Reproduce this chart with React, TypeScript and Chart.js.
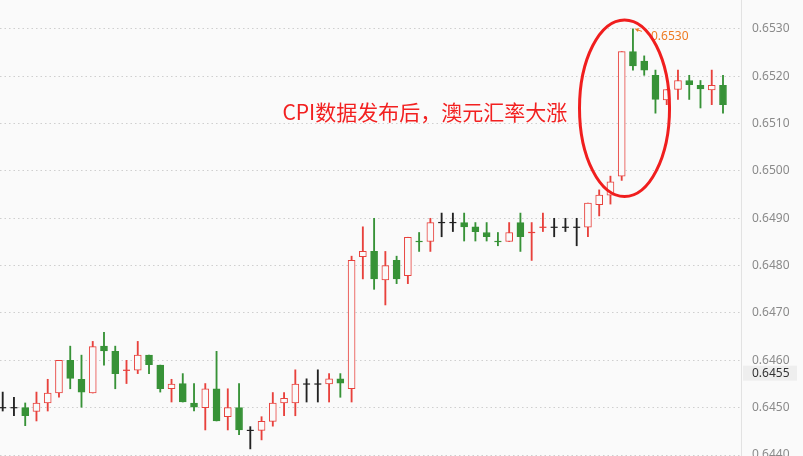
import React, { useEffect, useRef } from "react";
import { Chart, registerables } from "chart.js";

Chart.register(...registerables);

// AUD/USD candles (one per bar, oldest first)
const opens = [
  0.645, 0.645, 0.645, 0.64492, 0.6451, 0.64531, 0.646, 0.6456, 0.64531, 0.6463,
  0.64619, 0.64579, 0.64579, 0.64611, 0.6459, 0.6454, 0.64551, 0.6451, 0.645, 0.6454,
  0.64481, 0.645, 0.64452, 0.64452, 0.64471, 0.6451, 0.6451, 0.6455, 0.6455, 0.6455,
  0.64561, 0.6454, 0.64819, 0.6483, 0.6477, 0.64811, 0.64779, 0.64851, 0.64851, 0.64891,
  0.64891, 0.64891, 0.64882, 0.6487, 0.64851, 0.64851, 0.64891, 0.6487, 0.64881, 0.64881,
  0.64881, 0.64881, 0.64881, 0.64929, 0.64949, 0.64989, 0.65252, 0.65232, 0.65202, 0.6515,
  0.65172, 0.65191, 0.65181, 0.65171, 0.65181,
];
const highs = [
  0.64533, 0.64522, 0.6451, 0.64533, 0.6456, 0.646, 0.6463, 0.64611, 0.6464, 0.64659,
  0.6463, 0.646, 0.6464, 0.64611, 0.6459, 0.6456, 0.64572, 0.64551, 0.64551, 0.64619,
  0.6454, 0.64551, 0.6446, 0.64481, 0.64532, 0.64532, 0.6458, 0.64561, 0.6458, 0.64572,
  0.64572, 0.6482, 0.64882, 0.649, 0.6483, 0.6482, 0.6486, 0.6487, 0.649, 0.64911,
  0.64911, 0.64911, 0.64891, 0.64891, 0.6487, 0.64891, 0.64911, 0.64891, 0.64911, 0.649,
  0.649, 0.649, 0.64932, 0.6496, 0.64989, 0.65252, 0.653, 0.65243, 0.65213, 0.65172,
  0.65213, 0.65202, 0.65191, 0.65213, 0.65202,
];
const lows = [
  0.64493, 0.64483, 0.64462, 0.64472, 0.64493, 0.64522, 0.6454, 0.64501, 0.64531, 0.6459,
  0.6454, 0.64551, 0.64572, 0.64572, 0.64533, 0.64512, 0.64512, 0.64493, 0.64453, 0.64472,
  0.64453, 0.64443, 0.64413, 0.64432, 0.64461, 0.64483, 0.64483, 0.64512, 0.64512, 0.64512,
  0.64522, 0.64512, 0.64772, 0.6475, 0.64717, 0.64762, 0.64762, 0.6483, 0.6483, 0.64861,
  0.64872, 0.64852, 0.64852, 0.64852, 0.64842, 0.64851, 0.6483, 0.64811, 0.64872, 0.64861,
  0.64872, 0.64842, 0.64861, 0.64905, 0.6493, 0.6498, 0.65213, 0.65202, 0.65122, 0.6514,
  0.65151, 0.65151, 0.65133, 0.6514, 0.65122,
];
const closes = [
  0.645, 0.645, 0.64483, 0.6451, 0.64531, 0.646, 0.64562, 0.64533, 0.64629, 0.6462,
  0.64572, 0.6458, 0.64611, 0.64591, 0.6454, 0.6455, 0.64512, 0.64501, 0.6454, 0.64472,
  0.645, 0.64453, 0.64452, 0.64471, 0.6451, 0.6452, 0.6455, 0.6455, 0.6455, 0.64561,
  0.64552, 0.64811, 0.6483, 0.64772, 0.648, 0.64772, 0.6486, 0.6485, 0.64891, 0.64891,
  0.64891, 0.64882, 0.64872, 0.64861, 0.6485, 0.6487, 0.64861, 0.64871, 0.64882, 0.64881,
  0.64881, 0.64881, 0.64932, 0.64949, 0.64977, 0.65252, 0.65222, 0.65213, 0.65151, 0.65172,
  0.65191, 0.65182, 0.65173, 0.65181, 0.6514,
];

const yTicks = [0.644, 0.645, 0.646, 0.647, 0.648, 0.649, 0.65, 0.651, 0.652, 0.653];

const currentPriceText = "0.6455";
const currentPriceLevel = 0.64573;

const noteText = "CPI数据发布后，澳元汇率大涨";
const noteRightX = 50.16;
const noteY = 0.65124;
const ellipseX = [51.25, 59.25];
const ellipseY = [0.64946, 0.65319];

const UP = "#e8413c";
const DOWN = "#379237";
const FLAT = "#222222";
const BG = "#fafafa";

const candleIdx = opens.map((_, i) => i);
const isDoji = (i: number) => Math.abs(closes[i] - opens[i]) < 0.000015;
const colorOf = (i: number) =>
  closes[i] > opens[i] ? UP : closes[i] < opens[i] ? DOWN : FLAT;

const overlayPlugin = {
  id: "overlay",
  afterDraw(chart: any) {
    const { ctx, scales, chartArea } = chart;
    const x = scales.x;
    const y = scales.y;
    ctx.save();

    // highest high marker
    let hi = 0;
    highs.forEach((h, i) => {
      if (h > highs[hi]) hi = i;
    });
    const hx = x.getPixelForValue(hi);
    const hy = y.getPixelForValue(highs[hi]);
    ctx.strokeStyle = "#ee7b22";
    ctx.fillStyle = "#ee7b22";
    ctx.lineWidth = 1;
    ctx.beginPath();
    ctx.moveTo(hx + 3, hy + 0.5);
    ctx.lineTo(hx + 9, hy + 2.5);
    ctx.stroke();
    ctx.beginPath();
    ctx.moveTo(hx + 2, hy);
    ctx.lineTo(hx + 6, hy - 1);
    ctx.lineTo(hx + 5, hy + 3);
    ctx.closePath();
    ctx.fill();
    ctx.font = '12px "Noto Sans", sans-serif';
    ctx.textAlign = "left";
    ctx.textBaseline = "middle";
    ctx.fillText(highs[hi].toFixed(4), hx + 18, hy + 8);

    // annotation ellipse
    const ex0 = x.getPixelForValue(ellipseX[0]);
    const ex1 = x.getPixelForValue(ellipseX[1]);
    const ey0 = y.getPixelForValue(ellipseY[1]);
    const ey1 = y.getPixelForValue(ellipseY[0]);
    ctx.strokeStyle = "#f01e1e";
    ctx.lineWidth = 3;
    ctx.beginPath();
    ctx.ellipse((ex0 + ex1) / 2, (ey0 + ey1) / 2, (ex1 - ex0) / 2, (ey1 - ey0) / 2, 0, 0, Math.PI * 2);
    ctx.stroke();

    // annotation text
    ctx.fillStyle = "#f22020";
    ctx.font = '21px "Noto Sans CJK SC", sans-serif';
    ctx.textAlign = "right";
    ctx.textBaseline = "middle";
    ctx.fillText(noteText, x.getPixelForValue(noteRightX), y.getPixelForValue(noteY));

    // current price box on the axis
    const py = y.getPixelForValue(currentPriceLevel);
    ctx.fillStyle = "#eeeeee";
    ctx.fillRect(chartArea.right + 2, py - 7.5, 54, 15);
    ctx.fillStyle = "#333333";
    ctx.font = '12px "Noto Sans", sans-serif';
    ctx.textAlign = "left";
    ctx.fillText(currentPriceText, chartArea.right + 11, py);
    ctx.restore();
  },
};

const App: React.FC = () => {
  const canvasRef = useRef<HTMLCanvasElement | null>(null);
  const chartRef = useRef<Chart | null>(null);

  useEffect(() => {
    if (!canvasRef.current) return;
    const ctx = canvasRef.current.getContext("2d");
    if (!ctx) return;
    if (chartRef.current) chartRef.current.destroy();

    const bodyIdx = candleIdx.filter((i) => !isDoji(i));
    const dojiIdx = candleIdx.filter((i) => isDoji(i));

    chartRef.current = new Chart(ctx, {
      type: "bar",
      data: {
        datasets: [
          {
            type: "bar",
            order: 0,
            data: bodyIdx.map((i) => ({ x: i, y: [opens[i], closes[i]] })),
            backgroundColor: bodyIdx.map((i) => (closes[i] > opens[i] ? BG : DOWN)),
            borderColor: bodyIdx.map((i) => colorOf(i)),
            borderWidth: 1,
            borderSkipped: false,
            barThickness: 7,
            grouped: false,
          } as any,
          {
            type: "scatter",
            order: 1,
            data: dojiIdx.map((i) => ({ x: i, y: opens[i] })),
            pointStyle: "line",
            pointRadius: 3.5,
            borderColor: dojiIdx.map((i) => colorOf(i)),
            pointBorderColor: dojiIdx.map((i) => colorOf(i)),
            pointBorderWidth: 1.2,
            showLine: false,
            clip: false,
          } as any,
          {
            type: "bar",
            order: 2,
            data: candleIdx.map((i) => ({ x: i, y: [lows[i], highs[i]] })),
            backgroundColor: candleIdx.map((i) => colorOf(i)),
            borderWidth: 0,
            barThickness: 1.2,
            grouped: false,
          } as any,
        ],
      },
      options: {
        animation: false,
        responsive: true,
        maintainAspectRatio: false,
        layout: { padding: 0, autoPadding: false },
        plugins: {
          legend: { display: false },
          tooltip: { enabled: false },
        },
        scales: {
          x: {
            type: "linear",
            min: -0.24,
            max: 65.6,
            offset: false,
            display: false,
          },
          y: {
            position: "right",
            min: 0.64398,
            max: 0.65361,
            afterBuildTicks: (scale: any) => {
              scale.ticks = yTicks.map((v) => ({ value: v }));
            },
            afterFit: (scale: any) => {
              scale.width = 62;
              scale.paddingTop = 0;
              scale.paddingBottom = 0;
            },
            grid: {
              color: "#cfcfcf",
              lineWidth: 1,
              drawTicks: false,
            },
            border: {
              display: true,
              color: "#e2e2e2",
              dash: [1.5, 3],
            },
            ticks: {
              padding: 11,
              color: "#8a8a8a",
              font: { family: '"Noto Sans", sans-serif', size: 12 },
              callback: (v: any) => Number(v).toFixed(4),
            },
          },
        },
      } as any,
      plugins: [overlayPlugin],
    });

    return () => {
      if (chartRef.current) {
        chartRef.current.destroy();
        chartRef.current = null;
      }
    };
  }, []);

  return (
    <div
      style={{
        position: "fixed",
        left: 0,
        top: 0,
        width: 803,
        height: 456,
        background: BG,
      }}
    >
      <canvas ref={canvasRef}></canvas>
    </div>
  );
};

export default App;
